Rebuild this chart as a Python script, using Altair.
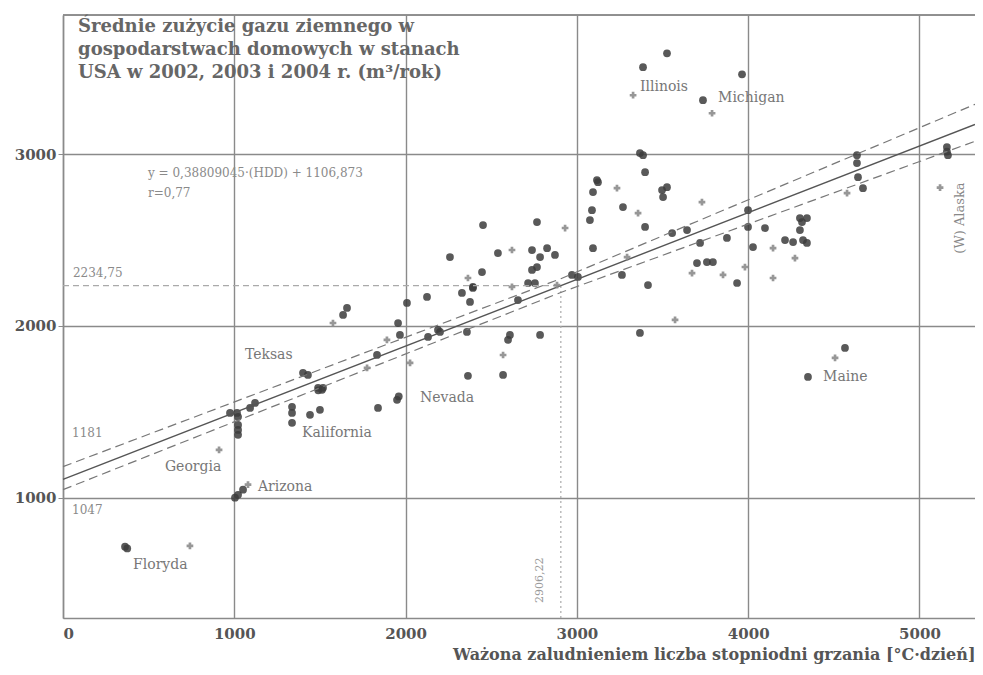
import altair as alt
import pandas as pd

# ---- data ----
circle_x = [362, 375, 1004, 1022, 1051, 1022, 1022, 1022, 1022, 975, 1016, 1121, 1092,
            1337, 1337, 1337, 1442, 1500, 1512, 1490, 1839, 1950, 1960, 1658, 1635,
            1401, 1430, 1489, 1518, 1833, 1956, 1967, 2008, 2125, 2131, 2189,
            2329, 2376, 2393, 2358, 2364, 2259, 2446, 2452, 2539, 2767,
            2738, 2826, 2872, 2785, 2767, 2738, 2755, 2715, 2393, 2656, 2971, 3006,
            3094, 3088, 3076, 3094, 3123, 3269, 3398, 3386, 3398, 3497, 3526, 3503, 3556,
            3263, 3415, 3368, 2609, 2598, 2785, 2569, 2201,
            4635, 4635, 4641, 4670, 3999, 3999, 4028, 4098, 3876, 3719, 3643,
            3701, 3759, 3794, 3935, 4302, 4343, 4314, 4302, 4215, 4262, 4320, 4343,
            4565, 4349, 3526, 3386, 3964, 3736, 3368, 3117, 5160, 5166, 5160]
circle_y = [715, 705, 1000, 1017, 1047, 1471, 1424, 1395, 1366, 1494, 1494, 1552, 1523,
            1529, 1494, 1436, 1483, 1512, 1628, 1625, 1523, 1570, 1590, 2105, 2064,
            1727, 1715, 1640, 1640, 1831, 2017, 1948, 2134, 2169, 1936, 1977,
            2192, 2140, 2221, 1965, 1710, 2401, 2314, 2587, 2424, 2605,
            2442, 2453, 2413, 2401, 2343, 2326, 2250, 2250, 2227, 2151, 2297, 2285,
            2453, 2674, 2616, 2779, 2837, 2692, 2576, 2994, 2895, 2791, 2808, 2750, 2541,
            2297, 2238, 1959, 1948, 1919, 1948, 1715, 1965,
            2994, 2948, 2866, 2802, 2674, 2576, 2459, 2570, 2512, 2483, 2558,
            2366, 2372, 2372, 2250, 2628, 2628, 2605, 2558, 2500, 2488, 2500, 2483,
            1872, 1703, 3587, 3506, 3465, 3314, 3006, 2849, 3041, 2994, 3015]

plus_x = [741, 911, 1080, 1576, 1775, 1891, 2026, 2621, 2931, 2364, 2621, 2884, 3234,
          3357, 3293, 3573, 2569, 4577, 3672, 3853, 3981, 4145, 4145, 4273, 4507,
          3328, 3789, 5120, 3730]
plus_y = [720, 1279, 1076, 2017, 1756, 1919, 1785, 2442, 2570, 2279, 2227, 2238, 2802,
          2657, 2401, 2035, 1831, 2773, 2308, 2297, 2343, 2279, 2453, 2395, 1814,
          3343, 3238, 2805, 2721]

fit_x = [0, 5324]
fit_y = [1106.873, 3173.1]
band_x = [0, 2906, 5324]
band_upper = [1181, 2275, 3290]
band_lower = [1047, 2195, 3075]
mean_x = 2906.22
mean_y = 2234.75

label_text = ["Illinois", "Michigan", "Teksas", "Kalifornia", "Nevada", "Georgia",
              "Arizona", "Floryda", "Maine"]
label_x = [3368, 3824, 1062, 1395, 2084, 595, 1138, 409, 4437]
label_y = [3390, 3326, 1831, 1378, 1581, 1180, 1064, 610, 1703]

note_text = ["y = 0,38809045·(HDD) + 1106,873", "r=0,77", "2234,75", "1181", "1047"]
note_x = [496, 496, 58, 53, 53]
note_y = [2890, 2773, 2308, 1378, 930]

title_lines = ["Średnie zużycie gazu ziemnego w",
               "gospodarstwach domowych w stanach",
               "USA w 2002, 2003 i 2004 r. (m³/rok)"]

X_DOMAIN = [0, 5324]
Y_DOMAIN = [300, 3810]
W, H = 912, 603
SERIF = "DejaVu Serif"

xs = alt.Scale(domain=X_DOMAIN, nice=False, zero=False)
ys = alt.Scale(domain=Y_DOMAIN, nice=False, zero=False)

xax = alt.Axis(values=[0, 1000, 2000, 3000, 4000, 5000], format="d", grid=True,
               gridColor="#8a8a8a", gridWidth=1.4, domainColor="#8a8a8a", domainWidth=1.5,
               ticks=False, labelFont=SERIF, labelFontSize=15, labelFontWeight="bold",
               labelColor="#555", labelPadding=8,
               title="Ważona zaludnieniem liczba stopniodni grzania [°C·dzień]",
               titleFont=SERIF, titleFontSize=16, titleFontWeight="bold", titleColor="#555",
               titleAnchor="end", titlePadding=5)
yax = alt.Axis(values=[1000, 2000, 3000], format="d", grid=True, gridColor="#8a8a8a",
               gridWidth=1.4, domainColor="#8a8a8a", domainWidth=1.5, tickSize=5,
               tickColor="#8a8a8a", labelFont=SERIF, labelFontSize=15,
               labelFontWeight="bold", labelColor="#555", labelPadding=2, title=None)

circles = pd.DataFrame({"x": circle_x, "y": circle_y})
pluses = pd.DataFrame({"x": plus_x, "y": plus_y})
fit = pd.DataFrame({"x": fit_x, "y": fit_y})
bands = pd.DataFrame({"x": band_x * 2, "y": band_upper + band_lower,
                      "b": ["u"] * 3 + ["l"] * 3})
hline = pd.DataFrame({"x": [0, mean_x], "y": [mean_y, mean_y]})
vline = pd.DataFrame({"x": [mean_x, mean_x], "y": [Y_DOMAIN[0], mean_y]})
labels = pd.DataFrame({"t": label_text, "x": label_x, "y": label_y})
notes = pd.DataFrame({"t": note_text, "x": note_x, "y": note_y})
title_df = pd.DataFrame({"t": ["\n".join(title_lines)], "x": [88], "y": [3790]})
vlabel = pd.DataFrame({"t": ["2906,22"], "x": [2785], "y": [520]})
alaska = pd.DataFrame({"t": ["(W) Alaska"], "x": [5236], "y": [2628]})

base_pts = alt.Chart(circles).mark_point(filled=True, shape="circle", size=60,
                                          color="#3c3c3c", opacity=0.85).encode(
    x=alt.X("x:Q", scale=xs, axis=xax), y=alt.Y("y:Q", scale=ys, axis=yax))
plus_pts = alt.Chart(pluses).mark_point(shape="cross", filled=True, size=45,
                                         color="#8c8c8c", opacity=0.9).encode(
    x=alt.X("x:Q", scale=xs), y=alt.Y("y:Q", scale=ys))
fit_line = alt.Chart(fit).mark_line(color="#555", strokeWidth=1.4).encode(
    x=alt.X("x:Q", scale=xs), y=alt.Y("y:Q", scale=ys))
band_lines = alt.Chart(bands).mark_line(color="#777", strokeWidth=1.2, strokeDash=[9, 5]).encode(
    x=alt.X("x:Q", scale=xs), y=alt.Y("y:Q", scale=ys), detail="b:N")
h_line = alt.Chart(hline).mark_line(color="#aaa", strokeWidth=1.2, strokeDash=[6, 4]).encode(
    x=alt.X("x:Q", scale=xs), y=alt.Y("y:Q", scale=ys))
v_line = alt.Chart(vline).mark_line(color="#aaa", strokeWidth=1.2, strokeDash=[2, 3]).encode(
    x=alt.X("x:Q", scale=xs), y=alt.Y("y:Q", scale=ys))
top_frame = alt.Chart(fit).mark_rule(color="#8a8a8a", strokeWidth=1.5).encode(
    x=alt.value(0), x2=alt.value(W), y=alt.value(0))
label_marks = alt.Chart(labels).mark_text(align="left", baseline="middle", font=SERIF,
                                          fontSize=14, color="#777").encode(
    x=alt.X("x:Q", scale=xs), y=alt.Y("y:Q", scale=ys), text="t:N")
note_marks = alt.Chart(notes).mark_text(align="left", baseline="middle", font=SERIF,
                                        fontSize=12, color="#8a8a8a").encode(
    x=alt.X("x:Q", scale=xs), y=alt.Y("y:Q", scale=ys), text="t:N")
title_mark = alt.Chart(title_df).mark_text(align="left", baseline="top", font=SERIF,
                                           fontSize=18, fontWeight="bold", color="#666",
                                           lineBreak="\n", lineHeight=23).encode(
    x=alt.X("x:Q", scale=xs), y=alt.Y("y:Q", scale=ys), text="t:N")
vlabel_mark = alt.Chart(vlabel).mark_text(align="center", baseline="middle", font=SERIF,
                                          fontSize=11, color="#999", angle=270).encode(
    x=alt.X("x:Q", scale=xs), y=alt.Y("y:Q", scale=ys), text="t:N")
alaska_mark = alt.Chart(alaska).mark_text(align="center", baseline="middle", font=SERIF,
                                          fontSize=13, color="#888", angle=270).encode(
    x=alt.X("x:Q", scale=xs), y=alt.Y("y:Q", scale=ys), text="t:N")

chart = alt.layer(base_pts, h_line, v_line, band_lines, fit_line, plus_pts, top_frame,
                  label_marks, note_marks, title_mark, vlabel_mark, alaska_mark).properties(
    width=W, height=H,
    autosize=alt.AutoSizeParams(type="none"),
    padding={"left": 55, "top": 7, "right": 0, "bottom": 50},
).configure_view(stroke=None).configure(background="white")

chart.save("out.html", embed_options={"renderer": "svg", "actions": False})
